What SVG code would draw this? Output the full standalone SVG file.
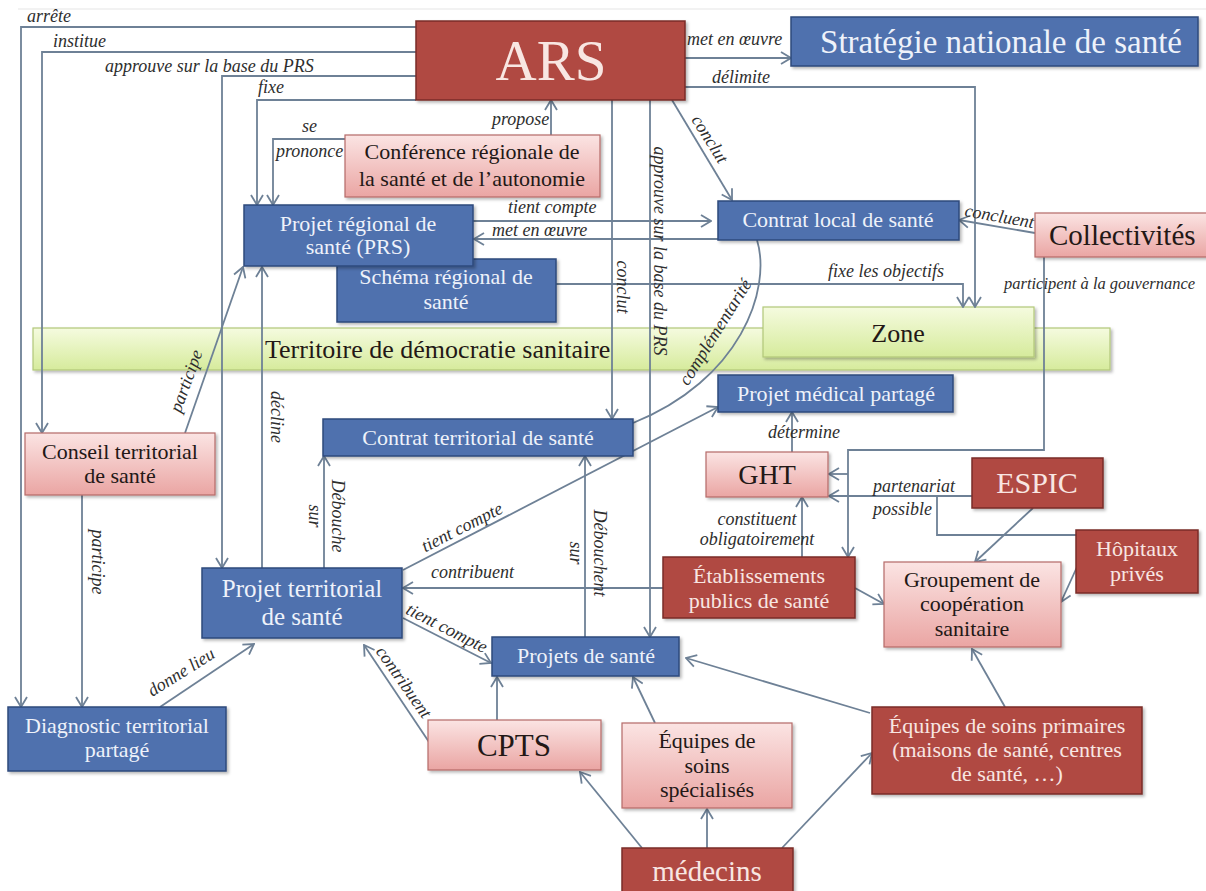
<svg xmlns="http://www.w3.org/2000/svg" width="1206" height="891" viewBox="0 0 1206 891">
<defs>
<linearGradient id="gPink" x1="0" y1="0" x2="0" y2="1"><stop offset="0" stop-color="#fbe4e3"/><stop offset="1" stop-color="#eaa5a3"/></linearGradient>
<linearGradient id="gGreen" x1="0" y1="0" x2="0" y2="1"><stop offset="0" stop-color="#f5fbdf"/><stop offset="1" stop-color="#d6eb9c"/></linearGradient>
<filter id="sh" x="-5%" y="-10%" width="112%" height="130%"><feDropShadow dx="2" dy="2" stdDeviation="1.5" flood-color="#000" flood-opacity="0.28"/></filter>
<marker id="ah" viewBox="0 0 12 14" refX="11" refY="7" markerWidth="12" markerHeight="14" markerUnits="userSpaceOnUse" orient="auto"><path d="M1,1 L11,7 L1,13" fill="none" stroke="#6e8196" stroke-width="1.8"/></marker>
<style>
.blue{fill:#4f71ae;stroke:#2e4a7c;stroke-width:1.5;filter:url(#sh)}
.red{fill:#b04a43;stroke:#7a2c27;stroke-width:1.5;filter:url(#sh)}
.pink{fill:url(#gPink);stroke:#b56a68;stroke-width:1.2;filter:url(#sh)}
.green{fill:url(#gGreen);stroke:#b1c779;stroke-width:1.2;filter:url(#sh)}
.t{font-family:"Liberation Serif","Times New Roman",serif;font-size:22px;text-anchor:middle}
.tw{fill:#eef2fa}
.tr{fill:#f8e6e2}
.td{fill:#231816}
.lb{font-family:"Liberation Serif","Times New Roman",serif;font-size:18px;font-style:italic;fill:#2e2e2e}
.c{fill:none;stroke:#6e8196;stroke-width:1.8}
.a{marker-end:url(#ah)}
</style>
</defs>
<rect width="1206" height="891" fill="#ffffff"/>
<line x1="18" y1="9" x2="1206" y2="9" stroke="#e6e6e6" stroke-width="1.2"/>

<g id="territoire">
<rect class="green" x="33" y="328" width="1077" height="42"/>
<text class="t td" x="265" y="358" style="text-anchor:start;font-size:26px">Territoire de démocratie sanitaire</text>
</g>
<g id="zone">
<rect class="green" x="763" y="307" width="271" height="50"/>
<text class="t td" x="898" y="342" style="font-size:26px">Zone</text>
</g>

<g id="connectors">
<path class="c a" d="M416,27 H21 V707"/>
<path class="c a" d="M416,52 H42 V433"/>
<path class="c a" d="M416,76 H222 V568"/>
<path class="c a" d="M416,100 H257 V205"/>
<path class="c a" d="M345,139 H273 V205"/>
<path class="c a" d="M551,135 V100"/>
<path class="c a" d="M685,58 H791"/>
<path class="c a" d="M685,87 H975 V307"/>
<path class="c a" d="M672,100 L732,200"/>
<path class="c a" d="M612,100 V419"/>
<path class="c a" d="M650,100 V637"/>
<path class="c a" d="M473,221 H711"/>
<path class="c a" d="M718,239 H474"/>
<path class="c a" d="M556,284 H963 V307"/>
<path class="c a" d="M1035,233 L959,220"/>
<path class="c a" d="M1044,257 V450 H848 V557"/>
<path class="c a" d="M848,474 H829"/>
<path class="c a" d="M972,496 H829"/>
<path class="c" d="M937,496 V535 H1076"/>
<path class="c a" d="M1033,508 L975,562"/>
<path class="c a" d="M1077,567 L1061,602"/>
<path class="c a" d="M855,588 L884,604"/>
<path class="c a" d="M802,557 V497"/>
<path class="c a" d="M792,452 V412"/>
<path class="c a" d="M663,588 H403"/>
<path class="c a" d="M403,570 L718,407"/>
<path class="c a" d="M324,568 V456"/>
<path class="c a" d="M585,637 V456"/>
<path class="c a" d="M403,618 L491,663"/>
<path class="c a" d="M262,568 V267"/>
<path class="c a" d="M185,433 L243,267"/>
<path class="c a" d="M82,495 V707"/>
<path class="c a" d="M160,707 L254,644"/>
<path class="c a" d="M429,742 L364,645"/>
<path class="c a" d="M497,720 V677"/>
<path class="c a" d="M655,723 L633,677"/>
<path class="c a" d="M870,713 L686,658"/>
<path class="c a" d="M1005,707 L972,649"/>
<path class="c a" d="M642,848 L580,772"/>
<path class="c a" d="M707,848 V809"/>
<path class="c a" d="M782,848 L872,753"/>
<path class="c" d="M757,240 C772,290 740,380 633,423"/>

<text class="lb" x="27" y="22">arrête</text>
<text class="lb" x="53" y="47">institue</text>
<text class="lb" x="105" y="72">approuve sur la base du PRS</text>
<text class="lb" x="258" y="93">fixe</text>
<text class="lb" x="302" y="132">se</text>
<text class="lb" x="276" y="157">prononce</text>
<text class="lb" x="492" y="125">propose</text>
<text class="lb" x="687" y="45">met en œuvre</text>
<text class="lb" x="712" y="83">délimite</text>
<text class="lb" text-anchor="middle" transform="translate(710,139) rotate(58)" y="6">conclut</text>
<text class="lb" x="508" y="213">tient compte</text>
<text class="lb" x="492" y="236">met en œuvre</text>
<text class="lb" text-anchor="middle" transform="translate(623,287) rotate(90)" y="6">conclut</text>
<text class="lb" text-anchor="middle" transform="translate(660,251) rotate(90)" y="6">approuve sur la base du PRS</text>
<text class="lb" x="828" y="277">fixe les objectifs</text>
<text class="lb" transform="translate(964,216) rotate(10)">concluent</text>
<text class="lb" x="1004" y="289" style="font-size:16.5px">participent à la gouvernance</text>
<text class="lb" text-anchor="middle" transform="translate(715,332) rotate(-58)" y="6">complémentarité</text>
<text class="lb" text-anchor="middle" transform="translate(186,381) rotate(-70)" y="6">participe</text>
<text class="lb" text-anchor="middle" transform="translate(277,417) rotate(90)" y="6">décline</text>
<text class="lb" text-anchor="middle" transform="translate(338,516) rotate(90)" y="6">Débouche</text>
<text class="lb" text-anchor="middle" transform="translate(315,516) rotate(90)" y="6">sur</text>
<text class="lb" text-anchor="middle" transform="translate(600,553) rotate(90)" y="6">Débouchent</text>
<text class="lb" text-anchor="middle" transform="translate(576,553) rotate(90)" y="6">sur</text>
<text class="lb" text-anchor="middle" transform="translate(462,527) rotate(-27)" y="6">tient compte</text>
<text class="lb" x="431" y="578">contribuent</text>
<text class="lb" text-anchor="middle" transform="translate(447,628) rotate(27)" y="6">tient compte</text>
<text class="lb" text-anchor="middle" transform="translate(404,682) rotate(55)" y="6">contribuent</text>
<text class="lb" text-anchor="middle" transform="translate(181,672) rotate(-32)" y="6">donne lieu</text>
<text class="lb" text-anchor="middle" transform="translate(98,562) rotate(90)" y="6">participe</text>
<text class="lb" x="873" y="492">partenariat</text>
<text class="lb" x="873" y="515">possible</text>
<text class="lb" x="768" y="438">détermine</text>
<text class="lb" x="757" y="525" text-anchor="middle">constituent</text>
<text class="lb" x="757" y="545" text-anchor="middle">obligatoirement</text>
</g>

<g id="ars">
<rect class="red" x="416" y="21" width="269" height="79"/>
<text class="t tr" x="551" y="80" style="font-size:57px">ARS</text>
</g>
<g id="strategie">
<rect class="blue" x="791" y="17" width="407" height="49"/>
<text class="t tw" x="1001" y="53" style="font-size:33px">Stratégie nationale de santé</text>
</g>
<g id="crsa">
<rect class="pink" x="345" y="135" width="255" height="62"/>
<text class="t td" x="472" y="159">Conférence régionale de</text>
<text class="t td" x="472" y="186">la santé et de l’autonomie</text>
</g>
<g id="srs">
<rect class="blue" x="337" y="259" width="219" height="63"/>
<text class="t tw" x="446" y="284">Schéma régional de</text>
<text class="t tw" x="446" y="309">santé</text>
</g>
<g id="prs">
<rect class="blue" x="244" y="205" width="229" height="61"/>
<text class="t tw" x="358" y="231">Projet régional de</text>
<text class="t tw" x="358" y="254">santé (PRS)</text>
</g>
<g id="cls">
<rect class="blue" x="718" y="201" width="241" height="39"/>
<text class="t tw" x="838" y="227">Contrat local de santé</text>
</g>
<g id="collectivites">
<rect class="pink" x="1035" y="213" width="180" height="44"/>
<text class="t td" x="1049" y="245" style="text-anchor:start;font-size:29px">Collectivités</text>
</g>
<g id="pmp">
<rect class="blue" x="718" y="375" width="235" height="37"/>
<text class="t tw" x="836" y="401">Projet médical partagé</text>
</g>
<g id="cts">
<rect class="blue" x="323" y="419" width="310" height="37"/>
<text class="t tw" x="478" y="445">Contrat territorial de santé</text>
</g>
<g id="conseil">
<rect class="pink" x="25" y="433" width="190" height="62"/>
<text class="t td" x="120" y="459">Conseil territorial</text>
<text class="t td" x="120" y="483">de santé</text>
</g>
<g id="ght">
<rect class="pink" x="706" y="452" width="122" height="45"/>
<text class="t td" x="767" y="484" style="font-size:28px">GHT</text>
</g>
<g id="espic">
<rect class="red" x="972" y="458" width="131" height="50"/>
<text class="t tr" x="1037" y="493" style="font-size:30px">ESPIC</text>
</g>
<g id="hopitaux">
<rect class="red" x="1076" y="530" width="122" height="63"/>
<text class="t tr" x="1137" y="556">Hôpitaux</text>
<text class="t tr" x="1137" y="581">privés</text>
</g>
<g id="etablissements">
<rect class="red" x="663" y="557" width="192" height="61"/>
<text class="t tr" x="759" y="583">Établissements</text>
<text class="t tr" x="759" y="608">publics de santé</text>
</g>
<g id="gcs">
<rect class="pink" x="884" y="562" width="177" height="85"/>
<text class="t td" x="972" y="587">Groupement de</text>
<text class="t td" x="972" y="611">coopération</text>
<text class="t td" x="972" y="636">sanitaire</text>
</g>
<g id="pts">
<rect class="blue" x="202" y="568" width="200" height="70"/>
<text class="t tw" x="302" y="597" style="font-size:25px">Projet territorial</text>
<text class="t tw" x="302" y="625" style="font-size:25px">de santé</text>
</g>
<g id="projets">
<rect class="blue" x="492" y="637" width="187" height="39"/>
<text class="t tw" x="586" y="663">Projets de santé</text>
</g>
<g id="diagnostic">
<rect class="blue" x="8" y="707" width="218" height="64"/>
<text class="t tw" x="117" y="733">Diagnostic territorial</text>
<text class="t tw" x="117" y="757">partagé</text>
</g>
<g id="cpts">
<rect class="pink" x="428" y="720" width="173" height="50"/>
<text class="t td" x="514" y="756" style="font-size:31px">CPTS</text>
</g>
<g id="eqspec">
<rect class="pink" x="622" y="723" width="170" height="85"/>
<text class="t td" x="707" y="748">Équipes de</text>
<text class="t td" x="707" y="773">soins</text>
<text class="t td" x="707" y="797">spécialisés</text>
</g>
<g id="esp">
<rect class="red" x="872" y="707" width="270" height="87"/>
<text class="t tr" x="1007" y="733">Équipes de soins primaires</text>
<text class="t tr" x="1007" y="757">(maisons de santé, centres</text>
<text class="t tr" x="1007" y="781">de santé, …)</text>
</g>
<g id="medecins">
<rect class="red" x="622" y="848" width="171" height="50"/>
<text class="t tr" x="707" y="881" style="font-size:29px">médecins</text>
</g>
</svg>
